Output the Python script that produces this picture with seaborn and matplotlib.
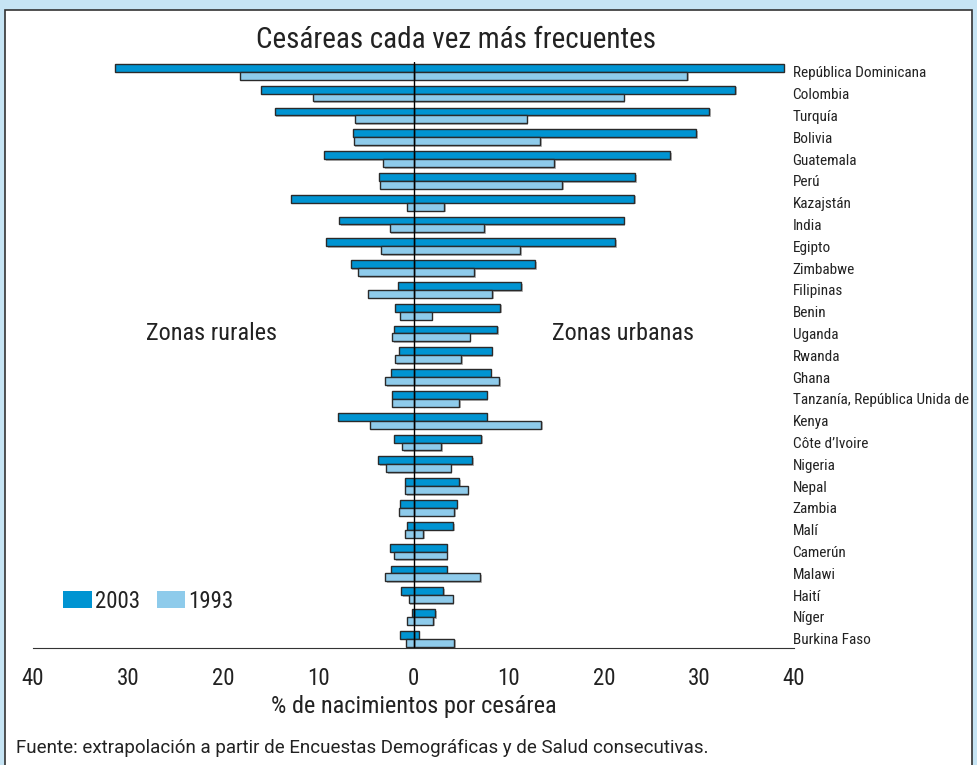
import matplotlib
matplotlib.use("Agg")
import matplotlib.pyplot as plt
import matplotlib.patheffects as pe
from matplotlib.patches import Patch, Rectangle
import seaborn as sns
import pandas as pd

countries = ["República Dominicana", "Colombia", "Turquía", "Bolivia", "Guatemala", "Perú",
             "Kazajstán", "India", "Egipto", "Zimbabwe", "Filipinas", "Benin", "Uganda",
             "Rwanda", "Ghana", "Tanzanía, República Unida de", "Kenya", "Côte d’Ivoire",
             "Nigeria", "Nepal", "Zambia", "Malí", "Camerún", "Malawi", "Haití", "Níger",
             "Burkina Faso"]

urban_2003 = [38.9, 33.8, 31.1, 29.7, 27.0, 23.3, 23.2, 22.1, 21.2, 12.8, 11.3, 9.1, 8.8,
              8.2, 8.1, 7.7, 7.7, 7.1, 6.2, 4.8, 4.55, 4.2, 3.5, 3.5, 3.1, 2.3, 0.55]
rural_2003 = [31.4, 16.0, 14.6, 6.4, 9.4, 3.6, 12.9, 7.8, 9.2, 6.6, 1.6, 1.9, 2.1,
              1.5, 2.4, 2.3, 7.9, 2.1, 3.7, 0.9, 1.4, 0.65, 2.45, 2.35, 1.3, 0.15, 1.4]
urban_1993 = [28.8, 22.1, 11.9, 13.3, 14.8, 15.6, 3.2, 7.4, 11.2, 6.4, 8.3, 1.9, 5.9,
              5.0, 9.0, 4.8, 13.4, 2.9, 3.9, 5.7, 4.3, 1.0, 3.5, 7.0, 4.1, 2.1, 4.3]
rural_1993 = [18.2, 10.6, 6.2, 6.3, 3.2, 3.5, 0.7, 2.5, 3.4, 5.8, 4.8, 1.4, 2.25,
              1.9, 3.0, 2.3, 4.55, 1.2, 2.9, 0.9, 1.55, 0.85, 2.0, 3.0, 0.5, 0.65, 0.8]

years = ["2003", "1993"]
colors = {"2003": "#0094d2", "1993": "#8ecbeb"}
ticks = [-40, -30, -20, -10, 0, 10, 20, 30, 40]

sns.set_style("white")
plt.rcParams['font.family'] = ['Roboto Condensed', 'Liberation Sans Narrow', 'Roboto', 'DejaVu Sans']
plt.rcParams['text.color'] = '#222222'

urban = pd.DataFrame({
    "pais": countries * 2,
    "year": ["2003"] * len(countries) + ["1993"] * len(countries),
    "valor": urban_2003 + urban_1993,
})
rural = pd.DataFrame({
    "pais": countries * 2,
    "year": ["2003"] * len(countries) + ["1993"] * len(countries),
    "valor": [-v for v in rural_2003] + [-v for v in rural_1993],
})

fig = plt.figure(figsize=(9.77, 7.65), dpi=100)
fig.patch.set_facecolor("#c6e4f4")
fig.patches.append(Rectangle((5 / 977, -0.01), 967 / 977, 1 - 10 / 765 + 0.01,
                             transform=fig.transFigure, facecolor="white",
                             edgecolor="#333333", linewidth=1.2, zorder=-10))

ax = fig.add_axes([33 / 977, 1 - 647.5 / 765, (794 - 33) / 977, (647.5 - 62) / 765])
ax.set_facecolor("none")

for df in [urban, rural]:
    sns.barplot(data=df, x="valor", y="pais", hue="year", hue_order=years, palette=colors,
                saturation=1, orient="h", width=0.72, edgecolor="#2a2a2a", linewidth=1.0,
                errorbar=None, legend=False, ax=ax)

# little grey drop shadow like the original
for bar in ax.patches:
    bar.set_path_effects([pe.SimplePatchShadow(offset=(1.2, -1.2), shadow_rgbFace="#9a9a9a", alpha=0.7),
                          pe.Normal()])

ax.axvline(0, color="black", lw=1, zorder=5)
ax.set_xlim(-40, 40)
ax.set_ylim(26.4, -0.45)
ax.set_xticks(ticks)
ax.set_xticklabels([str(abs(t)) for t in ticks], fontsize=16.5)
ax.tick_params(axis="x", direction="out", length=8, width=1, color="#333333", pad=6,
               labelcolor="#222222")
ax.yaxis.tick_right()
ax.tick_params(axis="y", length=0, pad=-1, labelsize=11.0, labelcolor="#222222")
ax.set_ylabel("")
ax.set_xlabel("% de nacimientos por cesárea", fontsize=17.5, labelpad=4, color="#222222")
for s in ["top", "left", "right"]:
    ax.spines[s].set_visible(False)
ax.spines["bottom"].set_color("#333333")

ax.text(-21.2, 12, "Zonas rurales", fontsize=17.5, ha="center", va="center")
ax.text(22.0, 12, "Zonas urbanas", fontsize=17.5, ha="center", va="center")

handles = [Patch(facecolor=colors[y], edgecolor="none", label=y) for y in years]
fig.legend(handles=handles, loc="center left", bbox_to_anchor=(42 / 977, 1 - 601 / 765),
           ncol=2, frameon=False, fontsize=16.5, handlelength=1.26, handleheight=0.77,
           handletextpad=0.14, columnspacing=0.73)

fig.text(456 / 977, 1 - 40 / 765, "Cesáreas cada vez más frecuentes", fontsize=21,
         ha="center", va="center")
fig.text(16 / 977, 1 - 748 / 765,
         "Fuente: extrapolación a partir de Encuestas Demográficas y de Salud consecutivas.",
         fontsize=13.5, ha="left", va="center", family=["Roboto", "DejaVu Sans"])

fig.savefig("out.png", dpi=100)
